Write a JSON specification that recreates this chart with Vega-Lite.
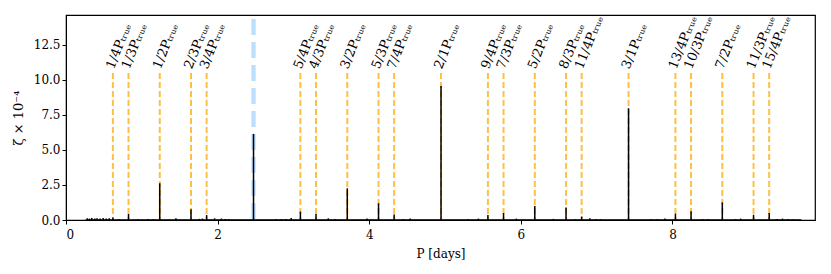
{
  "$schema": "https://vega.github.io/schema/vega-lite/v6.json",
  "width": 749,
  "height": 205,
  "autosize": "none",
  "padding": {"left": 66, "top": 15, "right": 16, "bottom": 54},
  "background": "white",
  "config": {
    "view": {"stroke": "black", "strokeWidth": 1.2},
    "axis": {"domainColor": "black", "tickColor": "black", "labelColor": "black", "titleColor": "black", "grid": false, "titleFontWeight": "normal", "tickSize": 4}
  },
  "datasets": {
    "harmonics": [
      {"P": 0.6184, "label": "1/4Pₜᵣᵤₑ"},
      {"P": 0.8245, "label": "1/3Pₜᵣᵤₑ"},
      {"P": 1.2368, "label": "1/2Pₜᵣᵤₑ"},
      {"P": 1.6490, "label": "2/3Pₜᵣᵤₑ"},
      {"P": 1.8551, "label": "3/4Pₜᵣᵤₑ"},
      {"P": 3.0919, "label": "5/4Pₜᵣᵤₑ"},
      {"P": 3.2980, "label": "4/3Pₜᵣᵤₑ"},
      {"P": 3.7103, "label": "3/2Pₜᵣᵤₑ"},
      {"P": 4.1225, "label": "5/3Pₜᵣᵤₑ"},
      {"P": 4.3286, "label": "7/4Pₜᵣᵤₑ"},
      {"P": 4.9470, "label": "2/1Pₜᵣᵤₑ"},
      {"P": 5.5654, "label": "9/4Pₜᵣᵤₑ"},
      {"P": 5.7715, "label": "7/3Pₜᵣᵤₑ"},
      {"P": 6.1838, "label": "5/2Pₜᵣᵤₑ"},
      {"P": 6.5960, "label": "8/3Pₜᵣᵤₑ"},
      {"P": 6.8021, "label": "11/4Pₜᵣᵤₑ"},
      {"P": 7.4205, "label": "3/1Pₜᵣᵤₑ"},
      {"P": 8.0389, "label": "13/4Pₜᵣᵤₑ"},
      {"P": 8.2450, "label": "10/3Pₜᵣᵤₑ"},
      {"P": 8.6573, "label": "7/2Pₜᵣᵤₑ"},
      {"P": 9.0695, "label": "11/3Pₜᵣᵤₑ"},
      {"P": 9.2756, "label": "15/4Pₜᵣᵤₑ"}
    ],
    "spikes": [
      {"P": 0.28, "h": 0.12}, {"P": 0.31, "h": 0.1}, {"P": 0.34, "h": 0.14}, {"P": 0.38, "h": 0.1},
      {"P": 0.41, "h": 0.13}, {"P": 0.45, "h": 0.11}, {"P": 0.49, "h": 0.15}, {"P": 0.53, "h": 0.1},
      {"P": 0.57, "h": 0.12}, {"P": 0.6184, "h": 0.18}, {"P": 0.7, "h": 0.05}, {"P": 0.8245, "h": 0.43},
      {"P": 0.95, "h": 0.05}, {"P": 1.08, "h": 0.07}, {"P": 1.15, "h": 0.04}, {"P": 1.2368, "h": 2.62},
      {"P": 1.45, "h": 0.12}, {"P": 1.6490, "h": 0.76}, {"P": 1.76, "h": 0.08}, {"P": 1.80, "h": 0.1},
      {"P": 1.8551, "h": 0.35}, {"P": 1.96, "h": 0.12}, {"P": 2.05, "h": 0.1}, {"P": 2.1, "h": 0.08},
      {"P": 2.15, "h": 0.06}, {"P": 2.4735, "h": 6.15}, {"P": 2.77, "h": 0.05}, {"P": 2.84, "h": 0.06},
      {"P": 2.9, "h": 0.08}, {"P": 2.97, "h": 0.15}, {"P": 3.0919, "h": 0.6}, {"P": 3.2980, "h": 0.43},
      {"P": 3.46, "h": 0.12}, {"P": 3.55, "h": 0.05}, {"P": 3.7103, "h": 2.26}, {"P": 3.97, "h": 0.1},
      {"P": 4.1225, "h": 1.19}, {"P": 4.3286, "h": 0.4}, {"P": 4.45, "h": 0.06}, {"P": 4.54, "h": 0.1},
      {"P": 4.9470, "h": 9.57}, {"P": 5.3, "h": 0.05}, {"P": 5.44, "h": 0.1}, {"P": 5.5654, "h": 0.35},
      {"P": 5.7715, "h": 0.5}, {"P": 5.94, "h": 0.1}, {"P": 6.1838, "h": 1.0}, {"P": 6.43, "h": 0.08},
      {"P": 6.5960, "h": 0.9}, {"P": 6.72, "h": 0.05}, {"P": 6.8021, "h": 0.25}, {"P": 6.91, "h": 0.12},
      {"P": 6.99, "h": 0.08}, {"P": 7.05, "h": 0.05}, {"P": 7.4205, "h": 7.98}, {"P": 7.72, "h": 0.05},
      {"P": 7.8, "h": 0.06}, {"P": 7.9, "h": 0.1}, {"P": 8.0389, "h": 0.45}, {"P": 8.2450, "h": 0.63},
      {"P": 8.4, "h": 0.06}, {"P": 8.47, "h": 0.05}, {"P": 8.6573, "h": 1.26}, {"P": 8.83, "h": 0.05},
      {"P": 8.9, "h": 0.1}, {"P": 9.0695, "h": 0.37}, {"P": 9.2756, "h": 0.5}, {"P": 9.38, "h": 0.07},
      {"P": 9.45, "h": 0.1}, {"P": 9.52, "h": 0.06}, {"P": 9.59, "h": 0.04}
    ]
  },
  "layer": [
    {
      "data": {"name": "harmonics"},
      "mark": {"type": "rule", "color": "#FFBF47", "strokeWidth": 2, "strokeDash": [6, 3]},
      "encoding": {
        "x": {"field": "P", "type": "quantitative", "scale": {"domain": [0, 9.88], "nice": false}, "axis": {"values": [0, 2, 4, 6, 8], "format": "d", "title": "P [days]", "titlePadding": 8, "labelPadding": 5, "labelFont": "DejaVu Serif", "titleFont": "DejaVu Serif", "labelFontSize": 12, "titleFontSize": 12}},
        "y": {"datum": 10.5, "type": "quantitative", "scale": {"domain": [0, 14.64], "nice": false}, "axis": {"values": [0, 2.5, 5, 7.5, 10, 12.5], "format": ".1f", "title": "ζ × 10⁻⁴", "titlePadding": 8, "labelFont": "DejaVu Serif", "titleFont": "DejaVu Serif", "labelFontSize": 12, "titleFontSize": 13}},
        "y2": {"datum": 0}
      }
    },
    {
      "data": {"values": [{"P": 2.4735}]},
      "mark": {"type": "rule", "color": "#BCDEFF", "strokeWidth": 4.3, "strokeDash": [16, 7]},
      "encoding": {
        "x": {"field": "P", "type": "quantitative"},
        "y": {"datum": 14.36, "type": "quantitative"},
        "y2": {"datum": 0}
      }
    },
    {
      "data": {"name": "spikes"},
      "mark": {"type": "rule", "color": "black", "strokeWidth": 1.5},
      "encoding": {
        "x": {"field": "P", "type": "quantitative"},
        "y": {"field": "h", "type": "quantitative"},
        "y2": {"datum": 0}
      }
    },
    {
      "data": {"values": [{"a": 0.26, "b": 9.7}]},
      "mark": {"type": "rule", "color": "black", "strokeWidth": 1.5},
      "encoding": {
        "x": {"field": "a", "type": "quantitative"},
        "x2": {"field": "b"},
        "y": {"datum": 0, "type": "quantitative"}
      }
    },
    {
      "data": {"name": "harmonics"},
      "mark": {"type": "text", "angle": 292, "align": "left", "baseline": "alphabetic", "fontSize": 13, "font": "DejaVu Serif", "color": "black", "dx": 2},
      "encoding": {
        "x": {"field": "P", "type": "quantitative"},
        "y": {"datum": 10.6, "type": "quantitative"},
        "text": {"field": "label"}
      }
    }
  ]
}
